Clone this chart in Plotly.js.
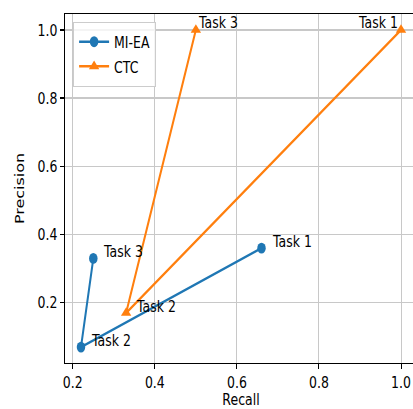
<!DOCTYPE html>
<html>
<head>
<meta charset="utf-8">
<script src="https://cdn.plot.ly/plotly-3.0.1.min.js"></script>
<style>
  html, body { margin: 0; padding: 0; background: #fff; }
  #wrap { width: 413px; height: 409px; overflow: hidden; position: relative; background: #fff; }
  #chart { position: absolute; left: 0; top: 0; transform: scaleY(1.278); transform-origin: 0 0; }
</style>
</head>
<body>
<div id="wrap"><div id="chart"></div></div>
<script>
// ---- data ----
const tasks = ['Task 1', 'Task 2', 'Task 3'];
const mieaRecall = [0.66, 0.22, 0.25];
const mieaPrecision = [0.36, 0.07, 0.33];
const ctcRecall = [1.0, 0.33, 0.5];
const ctcPrecision = [1.0, 0.17, 1.0];
const tickVals = [0.2, 0.4, 0.6, 0.8, 1.0];
const tickText = ['0.2', '0.4', '0.6', '0.8', '1.0'];

// ---- label placement styles (not data) ----
const mieaLabelStyle = [
  {anchor: 'left', shift: 8}, {anchor: 'left', shift: 8}, {anchor: 'left', shift: 8}
];
const ctcLabelStyle = [
  {anchor: 'right', shift: -1}, {anchor: 'left', shift: 8}, {anchor: 'left', shift: 0}
];

const FONT = 'DejaVu Sans, Verdana, sans-serif';
const FS = 12.5;

const traces = [
  {
    x: mieaRecall, y: mieaPrecision, name: 'MI-EA', mode: 'lines+markers',
    line: {color: '#1f77b4', width: 2},
    marker: {symbol: 'circle', size: 8.5, color: '#1f77b4'}
  },
  {
    x: ctcRecall, y: ctcPrecision, name: 'CTC', mode: 'lines+markers',
    line: {color: '#ff7f0e', width: 2},
    marker: {symbol: 'triangle-up', size: 9, color: '#ff7f0e'}
  }
];

const annotations = [];
function addLabels(xs, ys, styles) {
  xs.forEach((xv, i) => {
    annotations.push({
      x: xv, y: ys[i], xref: 'x', yref: 'y', text: tasks[i], showarrow: false,
      xanchor: styles[i].anchor, yanchor: 'bottom', xshift: styles[i].shift, yshift: -4,
      font: {family: FONT, size: FS, color: '#000'}
    });
  });
}
addLabels(mieaRecall, mieaPrecision, mieaLabelStyle);
addLabels(ctcRecall, ctcPrecision, ctcLabelStyle);

const axisCommon = {
  showline: true, mirror: true, linecolor: '#000', linewidth: 1,
  showgrid: true, gridcolor: '#c8c8c8', gridwidth: 1,
  zeroline: false, ticks: 'outside', ticklen: 4, tickcolor: '#000', tickwidth: 1,
  tickvals: tickVals, ticktext: tickText,
  tickfont: {family: FONT, size: FS, color: '#000'}
};

const layout = {
  width: 425, height: 320,
  margin: {l: 65, r: 8, t: 11, b: 36},
  paper_bgcolor: '#fff', plot_bgcolor: '#fff',
  showlegend: true,
  legend: {
    x: 0.023, y: 0.978, xanchor: 'left', yanchor: 'top',
    bgcolor: 'rgba(255,255,255,0.8)', bordercolor: '#cccccc', borderwidth: 1,
    font: {family: FONT, size: FS, color: '#000'}
  },
  xaxis: Object.assign({}, axisCommon, {
    range: [0.181, 1.039],
    title: {text: 'Recall', font: {family: FONT, size: FS, color: '#000'}, standoff: 5}
  }),
  yaxis: Object.assign({}, axisCommon, {
    range: [0.0235, 1.0465],
    title: {text: 'Precision', font: {family: FONT, size: FS, color: '#000'}, standoff: 10}
  }),
  annotations: annotations
};

Plotly.newPlot('chart', traces, layout, {displayModeBar: false, staticPlot: true});
</script>
</body>
</html>
